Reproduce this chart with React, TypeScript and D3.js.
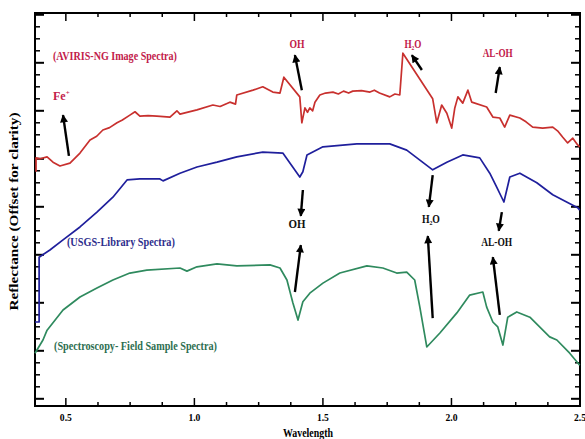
import * as d3 from "d3";

// spectra: [wavelength (um), reflectance offset]
const aviris: [number, number][] = [
  [0.384, 4.88], [0.384, 5.17], [0.4, 5.15], [0.427, 5.19], [0.45, 5.08],
  [0.477, 5.0], [0.516, 5.06], [0.555, 5.27], [0.594, 5.54], [0.62, 5.62],
  [0.644, 5.75], [0.67, 5.8], [0.699, 5.9], [0.72, 5.96], [0.749, 6.06],
  [0.769, 6.13], [0.788, 6.04], [0.82, 6.05], [0.854, 6.04], [0.905, 6.02],
  [0.932, 6.15], [0.944, 6.08], [1.01, 6.17], [1.072, 6.27], [1.1, 6.24],
  [1.138, 6.33], [1.16, 6.29], [1.165, 6.48], [1.228, 6.58], [1.266, 6.65],
  [1.305, 6.54], [1.333, 6.52], [1.348, 6.85], [1.41, 6.44], [1.418, 5.9],
  [1.43, 6.21], [1.44, 6.12], [1.449, 6.21], [1.46, 6.15], [1.469, 6.33],
  [1.488, 6.48], [1.51, 6.52], [1.539, 6.54], [1.56, 6.5], [1.58, 6.56],
  [1.6, 6.52], [1.616, 6.56], [1.65, 6.57], [1.683, 6.54], [1.7, 6.58],
  [1.72, 6.52], [1.76, 6.44], [1.78, 6.5], [1.799, 6.48], [1.811, 7.35],
  [1.927, 6.4], [1.943, 5.9], [1.962, 6.27], [1.982, 6.1], [2.001, 5.79],
  [2.013, 6.21], [2.025, 6.44], [2.044, 6.31], [2.064, 6.58], [2.079, 6.33],
  [2.137, 6.23], [2.161, 6.02], [2.188, 6.0], [2.207, 5.81], [2.227, 6.06],
  [2.266, 6.0], [2.29, 5.92], [2.316, 5.81], [2.355, 5.79], [2.394, 5.81],
  [2.415, 5.72], [2.433, 5.6], [2.452, 5.48], [2.472, 5.58], [2.491, 5.44],
  [2.499, 5.4],
];

const usgs: [number, number][] = [
  [0.38, 1.75], [0.396, 1.75], [0.396, 3.1], [0.438, 3.25], [0.489, 3.46],
  [0.555, 3.73], [0.621, 4.04], [0.683, 4.35], [0.738, 4.71], [0.788, 4.73],
  [0.866, 4.73], [0.878, 4.69], [0.944, 4.85], [1.01, 4.98], [1.088, 5.08],
  [1.165, 5.19], [1.266, 5.29], [1.344, 5.27], [1.41, 4.77], [1.422, 4.88],
  [1.438, 5.23], [1.5, 5.4], [1.632, 5.46], [1.76, 5.46], [1.826, 5.33],
  [1.927, 4.92], [1.982, 5.08], [2.044, 5.23], [2.11, 5.17], [2.149, 4.85],
  [2.176, 4.56], [2.204, 4.25], [2.227, 4.77], [2.266, 4.85], [2.332, 4.65],
  [2.394, 4.4], [2.448, 4.25], [2.491, 4.13], [2.499, 4.08],
];

const field: [number, number][] = [
  [0.38, 1.1], [0.411, 1.375], [0.427, 1.58], [0.489, 2.0], [0.555, 2.27],
  [0.621, 2.46], [0.683, 2.625], [0.749, 2.77], [0.815, 2.83], [0.944, 2.875],
  [0.971, 2.81], [1.01, 2.9], [1.088, 2.96], [1.165, 2.92], [1.294, 2.94],
  [1.333, 2.875], [1.36, 2.625], [1.383, 2.15], [1.403, 1.79], [1.422, 2.17],
  [1.449, 2.35], [1.5, 2.56], [1.566, 2.77], [1.671, 2.92], [1.733, 2.875],
  [1.787, 2.77], [1.826, 2.79], [1.857, 2.625], [1.877, 2.06], [1.904, 1.23],
  [1.955, 1.52], [2.021, 1.94], [2.071, 2.31], [2.122, 2.375], [2.137, 2.06],
  [2.161, 1.75], [2.18, 1.65], [2.2, 1.27], [2.219, 1.85], [2.254, 1.96],
  [2.305, 1.85], [2.382, 1.44], [2.41, 1.375], [2.46, 1.1], [2.499, 0.85],
];

const xMajor = [0.5, 1.0, 1.5, 2.0, 2.5];
const xMajorLabels = ["0.5", "1.0", "1.5", "2.0", "2.5"];

// absorption feature arrows: [tailW, tailR, headW, headR]
const arrows: [number, number, number, number][] = [
  [0.512, 5.21, 0.489, 6.06],
  [1.418, 6.58, 1.391, 7.31],
  [1.885, 7.0, 1.846, 7.31],
  [2.172, 6.52, 2.188, 7.06],
  [1.422, 4.5, 1.414, 3.96],
  [1.391, 2.375, 1.414, 3.35],
  [1.927, 4.81, 1.912, 4.15],
  [1.927, 1.83, 1.908, 3.54],
  [2.196, 4.04, 2.184, 3.65],
  [2.188, 1.9, 2.161, 3.1],
];

const RED = "#c8302e";
const BLUE = "#1f1f9c";
const GREEN = "#2f8a5e";
const LBL_RED = "#c2204a";
const LBL_BLUE = "#2e2e8c";
const LBL_GREEN = "#2d6e50";

const labels = [
  { t: "(AVIRIS-NG Image Spectra)", w: 0.45, r: 7.21, c: LBL_RED, a: "start", len: 124 },
  { t: "OH", w: 1.399, r: 7.46, c: LBL_RED, a: "middle", len: 15 },
  { t: "H\u2082O", w: 1.85, r: 7.46, c: LBL_RED, a: "middle", len: 17 },
  { t: "AL-OH", w: 2.18, r: 7.27, c: LBL_RED, a: "middle", len: 30 },
  { t: "OH", w: 1.399, r: 3.71, c: "#111", a: "middle", len: 17 },
  { t: "H\u2082O", w: 1.92, r: 3.81, c: "#111", a: "middle", len: 18 },
  { t: "AL-OH", w: 2.176, r: 3.33, c: "#111", a: "middle", len: 31 },
  { t: "(USGS-Library Spectra)", w: 0.504, r: 3.33, c: LBL_BLUE, a: "start", len: 108 },
  { t: "(Spectroscopy- Field Sample Spectra)", w: 0.454, r: 1.17, c: LBL_GREEN, a: "start", len: 163 },
];

const FONT = "'Liberation Serif', 'Times New Roman', serif";

const App = () => {
  const width = 585;
  const height = 439;
  const margin = { top: 13, right: 5, bottom: 33, left: 35 };
  const x = d3
    .scaleLinear()
    .domain([0.38, 2.5])
    .range([margin.left, width - margin.right]);
  const y = d3
    .scaleLinear()
    .domain([0, 8.1875])
    .range([height - margin.bottom, margin.top]);

  const line = d3
    .line<[number, number]>()
    .x((d) => x(d[0]))
    .y((d) => y(d[1]));

  const xTicks = d3.range(0.5, 2.5001, 0.125);
  const yTicks = d3.range(0, 33).map((k) => ({ v: 0.15 + k * 0.25, major: k % 4 === 0 }));

  const x0 = x.range()[0];
  const x1 = x.range()[1];
  const y0 = y.range()[0];
  const y1 = y.range()[1];

  return (
    <svg
      width={width}
      height={height}
      style={{ position: "absolute", left: 0, top: 0, background: "#fff" }}
    >
      <defs>
        <marker
          id="head"
          viewBox="0 0 10 10"
          refX="9"
          refY="5"
          markerWidth="9"
          markerHeight="8"
          markerUnits="userSpaceOnUse"
          orient="auto"
        >
          <path d="M0,0 L10,5 L0,10 z" fill="#000" />
        </marker>
      </defs>

      {/* x ticks bottom & top */}
      {xTicks.map((t, i) => {
        const major = Math.abs(t * 2 - Math.round(t * 2)) < 1e-6;
        const len = major ? 8 : 4;
        return (
          <g key={"xt" + i} stroke="#000" strokeWidth={1.5}>
            <line x1={x(t)} x2={x(t)} y1={y0} y2={y0 - len} />
            <line x1={x(t)} x2={x(t)} y1={y1} y2={y1 + len} />
          </g>
        );
      })}
      {/* y ticks left & right */}
      {yTicks.map((t, i) => {
        const len = t.major ? 9 : 5;
        return (
          <g key={"yt" + i} stroke="#000" strokeWidth={t.major ? 2 : 1.5}>
            <line x1={x0} x2={x0 + len} y1={y(t.v)} y2={y(t.v)} />
            <line x1={x1} x2={x1 - len} y1={y(t.v)} y2={y(t.v)} />
          </g>
        );
      })}

      <rect
        x={x0}
        y={y1}
        width={x1 - x0}
        height={y0 - y1}
        fill="none"
        stroke="#000"
        strokeWidth={2}
      />

      {xMajor.map((t, i) => (
        <text
          key={"xl" + i}
          x={x(t)}
          y={y0 + 15}
          textAnchor="middle"
          fontFamily={FONT}
          fontWeight="bold"
          fontSize={11}
          textLength={12}
          lengthAdjust="spacingAndGlyphs"
        >
          {xMajorLabels[i]}
        </text>
      ))}

      <text
        x={308}
        y={437}
        textAnchor="middle"
        fontFamily={FONT}
        fontWeight="bold"
        fontSize={12}
        textLength={50}
        lengthAdjust="spacingAndGlyphs"
      >
        Wavelength
      </text>
      <text
        transform={`translate(18,${(y0 + y1) / 2 + 2}) rotate(-90)`}
        textAnchor="middle"
        fontFamily={FONT}
        fontWeight="bold"
        fontSize={11.5}
        textLength={198}
        lengthAdjust="spacingAndGlyphs"
      >
        Reflectance (Offset for clarity)
      </text>

      <g fill="none" strokeWidth={1.7} strokeLinejoin="round">
        <path d={line(aviris) || ""} stroke={RED} />
        <path d={line(usgs) || ""} stroke={BLUE} />
        <path d={line(field) || ""} stroke={GREEN} />
      </g>

      {arrows.map((a, i) => (
        <line
          key={"ar" + i}
          x1={x(a[0])}
          y1={y(a[1])}
          x2={x(a[2])}
          y2={y(a[3])}
          stroke="#000"
          strokeWidth={2.4}
          markerEnd="url(#head)"
        />
      ))}

      {labels.map((l, i) => (
        <text
          key={"lb" + i}
          x={x(l.w)}
          y={y(l.r)}
          textAnchor={l.a}
          fill={l.c}
          fontFamily={FONT}
          fontWeight="bold"
          fontSize={12}
          textLength={l.len}
          lengthAdjust="spacingAndGlyphs"
        >
          {l.t}
        </text>
      ))}
      <text
        x={x(0.45)}
        y={y(6.375)}
        fill={LBL_RED}
        fontFamily={FONT}
        fontWeight="bold"
        fontSize={12}
      >
        Fe
        <tspan dy={-5} fontSize={7}>
          +
        </tspan>
      </text>
    </svg>
  );
};

export default App;
